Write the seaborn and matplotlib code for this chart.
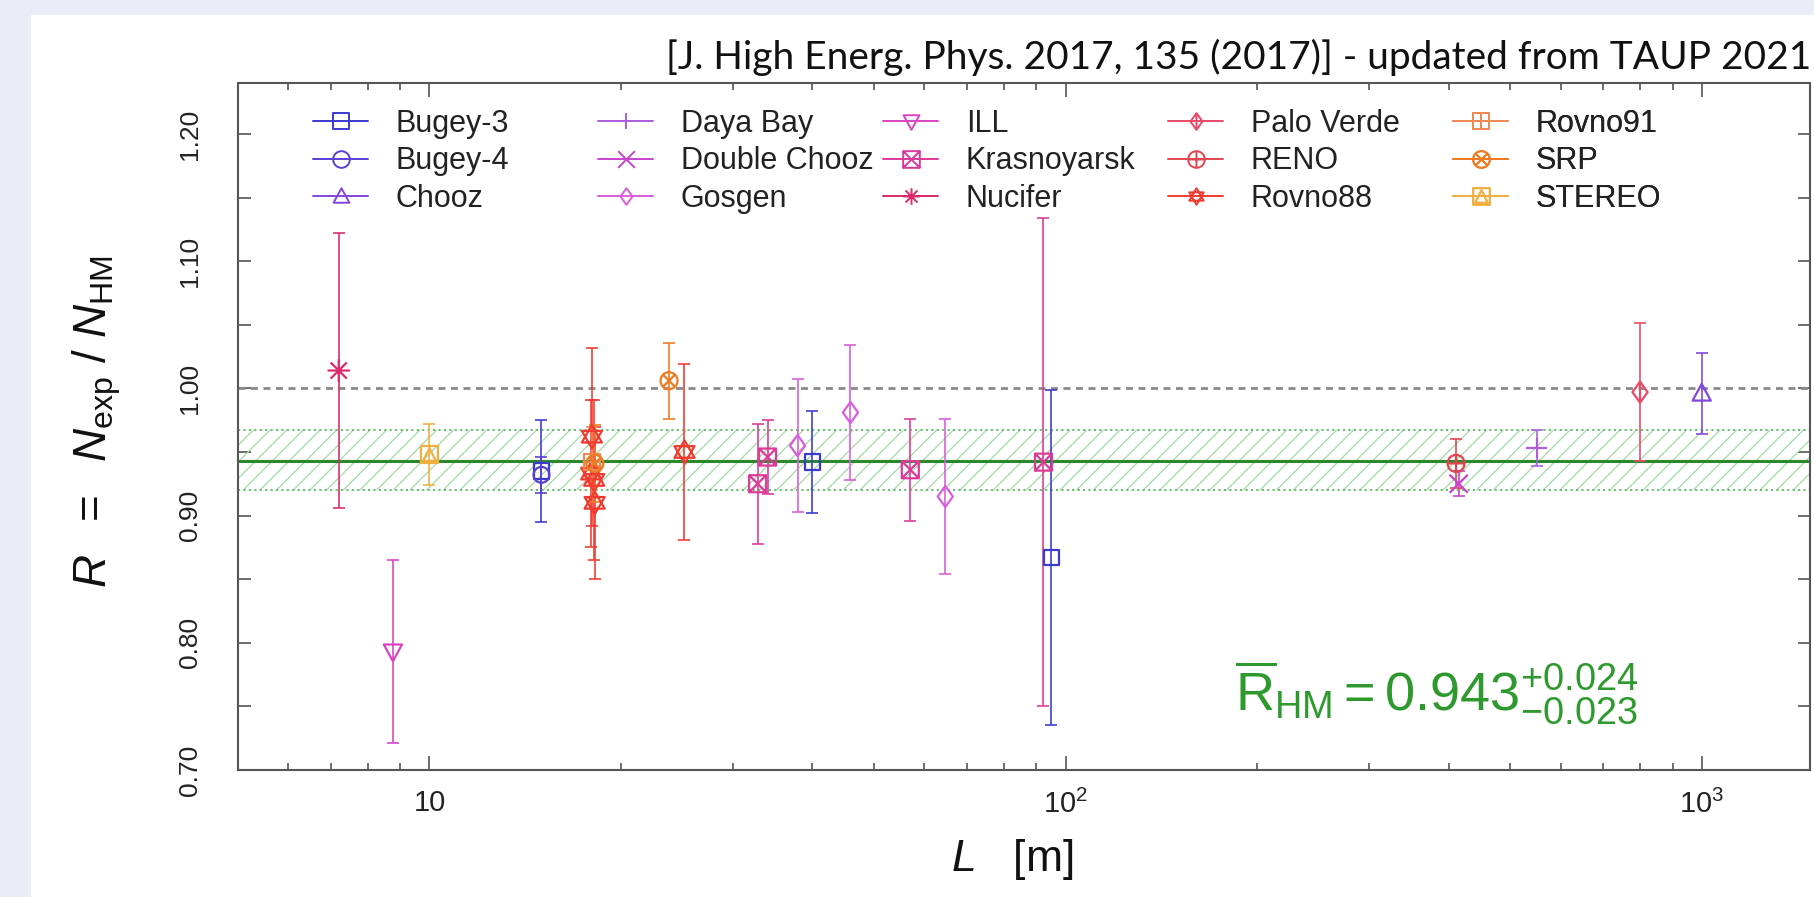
import numpy as np
import pandas as pd
import matplotlib
matplotlib.use("Agg")
import matplotlib.pyplot as plt
from matplotlib.path import Path
from matplotlib.lines import Line2D
from matplotlib.patches import Rectangle
from matplotlib.ticker import FixedLocator, MultipleLocator, LogLocator, NullFormatter
import seaborn as sns

# ---------------- data ----------------
experiment_names = ["Bugey-3", "Bugey-4", "Chooz", "Daya Bay", "Double Chooz",
                    "Gosgen", "ILL", "Krasnoyarsk", "Nucifer", "Palo Verde",
                    "RENO", "Rovno88", "Rovno91", "SRP", "STEREO"]

bugey3_L = [15.0, 40.0, 95.0]
bugey3_R = [0.935, 0.942, 0.867]
bugey3_err = [0.040, 0.040, 0.132]

bugey4_L = [15.0]
bugey4_R = [0.932]
bugey4_err = [0.014]

chooz_L = [1000.0]
chooz_R = [0.996]
chooz_err = [0.032]

dayabay_L = [550.0]
dayabay_R = [0.953]
dayabay_err = [0.014]

doublechooz_L = [415.0]
doublechooz_R = [0.925]
doublechooz_err = [0.010]

gosgen_L = [37.9, 45.9, 64.7]
gosgen_R = [0.955, 0.981, 0.915]
gosgen_err = [0.052, 0.053, 0.061]

ill_L = [8.76]
ill_R = [0.793]
ill_err = [0.072]

krasnoyarsk_L = [32.8, 34.0, 57.0, 92.3]
krasnoyarsk_R = [0.925, 0.946, 0.936, 0.942]
krasnoyarsk_err = [0.047, 0.029, 0.040, 0.192]

nucifer_L = [7.2]
nucifer_R = [1.014]
nucifer_err = [0.108]

paloverde_L = [800.0]
paloverde_R = [0.997]
paloverde_err = [0.054]

reno_L = [411.0]
reno_R = [0.941]
reno_err = [0.019]

rovno88_L = [18.0, 17.96, 18.15, 18.18, 25.17]
rovno88_R = [0.962, 0.933, 0.928, 0.910, 0.950]
rovno88_err = [0.070, 0.058, 0.063, 0.060, 0.069]

rovno91_L = [18.0]
rovno91_R = [0.942]
rovno91_err = [0.028]

srp_L = [18.2, 23.8]
srp_R = [0.941, 1.006]
srp_err = [0.030, 0.030]

stereo_L = [10.0]
stereo_R = [0.948]
stereo_err = [0.024]

R_HM = 0.943
R_HM_up = 0.024
R_HM_down = 0.023
R_unity = 1.00

y_tick_values = [0.70, 0.80, 0.90, 1.00, 1.10, 1.20]
y_tick_labels = ["0.70", "0.80", "0.90", "1.00", "1.10", "1.20"]
x_tick_values = [10, 100, 1000]
x_tick_labels = ["10", "$10^{2}$", "$10^{3}$"]

colors = ["#3b3bcf", "#5a3fd6", "#8446dc", "#ad5ee0", "#c844cf",
          "#d95cdb", "#d944c4", "#dc3a98", "#dc2a6a", "#ea4a66",
          "#e04550", "#f03c30", "#ef8a55", "#ee7a22", "#f0b040"]

series_L = [bugey3_L, bugey4_L, chooz_L, dayabay_L, doublechooz_L, gosgen_L,
            ill_L, krasnoyarsk_L, nucifer_L, paloverde_L, reno_L, rovno88_L,
            rovno91_L, srp_L, stereo_L]
series_R = [bugey3_R, bugey4_R, chooz_R, dayabay_R, doublechooz_R, gosgen_R,
            ill_R, krasnoyarsk_R, nucifer_R, paloverde_R, reno_R, rovno88_R,
            rovno91_R, srp_R, stereo_R]
series_E = [bugey3_err, bugey4_err, chooz_err, dayabay_err, doublechooz_err,
            gosgen_err, ill_err, krasnoyarsk_err, nucifer_err, paloverde_err,
            reno_err, rovno88_err, rovno91_err, srp_err, stereo_err]

rows = []
for name, Ls, Rs, Es in zip(experiment_names, series_L, series_R, series_E):
    for L, R, E in zip(Ls, Rs, Es):
        rows.append({"experiment": name, "L": L, "R": R, "err": E})
df = pd.DataFrame(rows)

# ---------------- marker shapes ----------------
def mk(*parts):
    verts, codes = [], []
    for pv, closed in parts:
        verts.extend(pv)
        c = [Path.MOVETO] + [Path.LINETO] * (len(pv) - 1)
        if closed:
            verts.append(pv[0])
            c.append(Path.CLOSEPOLY)
        codes.extend(c)
    return Path(verts, codes)

sq = ([(-1, -1), (1, -1), (1, 1), (-1, 1)], True)
plus_h = ([(-1, 0), (1, 0)], False)
plus_v = ([(0, -1), (0, 1)], False)
d1 = ([(-0.72, -0.72), (0.72, 0.72)], False)
d2 = ([(-0.72, 0.72), (0.72, -0.72)], False)
cpath = Path.unit_circle()

m_square = mk(sq)
m_circle = Path(cpath.vertices, cpath.codes)
m_triup = mk(([(0, 1), (-0.95, -0.75), (0.95, -0.75)], True))
m_tridown = mk(([(0, -1), (-0.95, 0.75), (0.95, 0.75)], True))
m_diamond = mk(([(0, 1), (0.72, 0), (0, -1), (-0.72, 0)], True))
m_plus = mk(plus_h, plus_v)
m_x = mk(([(-1, -1), (1, 1)], False), ([(-1, 1), (1, -1)], False))
m_aster = mk(plus_h, plus_v, d1, d2)
m_sqx = mk(sq, ([(-1, -1), (1, 1)], False), ([(-1, 1), (1, -1)], False))
m_sqplus = mk(sq, plus_h, plus_v)
m_cplus = Path(list(cpath.vertices) + [(-1, 0), (1, 0), (0, -1), (0, 1)],
               list(cpath.codes) + [Path.MOVETO, Path.LINETO, Path.MOVETO, Path.LINETO])
m_cx = Path(list(cpath.vertices) + [(-0.7, -0.7), (0.7, 0.7), (-0.7, 0.7), (0.7, -0.7)],
            list(cpath.codes) + [Path.MOVETO, Path.LINETO, Path.MOVETO, Path.LINETO])
m_dvline = mk(([(0, 1), (0.72, 0), (0, -1), (-0.72, 0)], True), ([(0, -1), (0, 1)], False))
m_hexa = mk(([(0, 1), (-0.866, -0.5), (0.866, -0.5)], True),
            ([(0, -1), (-0.866, 0.5), (0.866, 0.5)], True))
m_sqtri = mk(sq, ([(0, 0.75), (-0.75, -0.75), (0.75, -0.75)], True))

markers = [m_square, m_circle, m_triup, m_plus, m_x, m_diamond, m_tridown,
           m_sqx, m_aster, m_dvline, m_cplus, m_hexa, m_sqplus, m_cx, m_sqtri]
sizes = [130, 130, 190, 220, 170, 230, 190, 150, 260, 230, 150, 280, 140, 150, 150]

# ---------------- style ----------------
sns.set_theme(style="ticks")
plt.rcParams["font.family"] = ["Liberation Sans", "DejaVu Sans"]
plt.rcParams["mathtext.fontset"] = "custom"
plt.rcParams["mathtext.rm"] = "Liberation Sans"
plt.rcParams["mathtext.it"] = "Liberation Sans:italic"
plt.rcParams["mathtext.bf"] = "Liberation Sans:bold"
plt.rcParams["mathtext.sf"] = "Liberation Sans"
plt.rcParams["hatch.linewidth"] = 0.9

fig = plt.figure(figsize=(18.14, 8.97), dpi=100, facecolor="#e9edf6")
fig.patches.append(Rectangle((31 / 1814, 0), 1 - 31 / 1814, 1 - 15 / 897,
                             transform=fig.transFigure, facecolor="white",
                             edgecolor="none", zorder=-10))
ax = fig.add_axes([238 / 1814, 127 / 897, 1572 / 1814, 687 / 897])
ax.set_facecolor("white")

ax.set_xscale("log")
ax.set_xlim(5.0, 1480.0)
ax.set_ylim(0.70, 1.24)

# reference lines and band
ax.axhspan(R_HM - R_HM_down, R_HM + R_HM_up, facecolor="none",
           edgecolor="#a6d8a6", hatch="//", linewidth=0, zorder=1)
ax.axhline(R_HM + R_HM_up, color="#5cb85c", lw=1.3, ls=(0, (1.2, 1.8)), zorder=2)
ax.axhline(R_HM - R_HM_down, color="#5cb85c", lw=1.3, ls=(0, (1.2, 1.8)), zorder=2)
ax.axhline(R_HM, color="#2a8a2a", lw=2.2, zorder=2)
ax.axhline(R_unity, color="#8a8a8a", lw=2.0, ls=(0, (2.5, 2.0)), zorder=2)

# error bars + markers
for name, c, m, s in zip(experiment_names, colors, markers, sizes):
    sub = df[df["experiment"] == name]
    ax.errorbar(sub["L"], sub["R"], yerr=sub["err"], fmt="none", ecolor=c,
                elinewidth=1.3, capsize=4, capthick=1.3, zorder=3, alpha=0.9)
    sns.scatterplot(data=sub, x="L", y="R", ax=ax, marker=m, s=s,
                    facecolor="none", edgecolor=c, color=c, linewidth=1.6,
                    zorder=4, legend=False)

# legend: five columns of three entries
handles = [Line2D([0], [0], color=c, lw=1.4, marker=m, markersize=12,
                  markerfacecolor="none", markeredgecolor=c, markeredgewidth=1.4)
           for c, m in zip(colors, markers)]
col_x = [0.0480 + 0.1813 * i for i in range(5)]
for i in range(5):
    leg = ax.legend(handles[3 * i:3 * i + 3], experiment_names[3 * i:3 * i + 3],
                    loc="center left", bbox_to_anchor=(col_x[i], 0.886),
                    frameon=False, fontsize=22, handlelength=1.8,
                    handletextpad=0.9, labelspacing=0.24, borderpad=0,
                    borderaxespad=0)
    for t in leg.get_texts():
        t.set_color("#222222")
    ax.add_artist(leg)

# ticks
ax.xaxis.set_major_locator(FixedLocator(x_tick_values))
ax.set_xticklabels(x_tick_labels)
ax.xaxis.set_minor_locator(LogLocator(base=10, subs=np.arange(2, 10)))
ax.xaxis.set_minor_formatter(NullFormatter())
ax.yaxis.set_major_locator(FixedLocator(y_tick_values))
ax.set_yticklabels(y_tick_labels, rotation=90, va="center")
ax.yaxis.set_minor_locator(MultipleLocator(0.05))
ax.tick_params(which="both", direction="in", top=True, right=True,
               color="#555555", width=1.2)
ax.tick_params(axis="x", which="major", length=10, labelsize=21, pad=14,
               labelcolor="#222222")
ax.tick_params(axis="x", which="minor", length=5)
ax.tick_params(axis="y", which="both", length=9, labelsize=19, pad=26,
               labelcolor="#222222")
for sp in ax.spines.values():
    sp.set_color("#555555")
    sp.set_linewidth(1.5)

ax.set_xlabel(r"$L$   [m]", fontsize=32, color="#111111")
ax.xaxis.set_label_coords(0.4924, -0.098)
ax.set_ylabel(r"$R\ \ =\ \ N_{\mathrm{exp}}\ /\ N_{\mathrm{HM}}$", fontsize=33,
              color="#111111")
ax.yaxis.set_label_coords(-0.073, 0.507)

ax.text(0.634, 0.0873,
        r"$\overline{\mathrm{R}}_{\mathrm{HM}} = 0.943^{+0.024}_{-0.023}$",
        transform=ax.transAxes, fontsize=39, color="#2e9a2e",
        ha="left", va="baseline")

fig.text(0.9985, 1 - 57 / 897,
         "[J. High Energ. Phys. 2017, 135 (2017)] - updated from TAUP 2021",
         ha="right", va="center", fontsize=28, family=["Lato", "DejaVu Sans"],
         color="#111111")

fig.savefig("out.png", dpi=100, facecolor=fig.get_facecolor())
